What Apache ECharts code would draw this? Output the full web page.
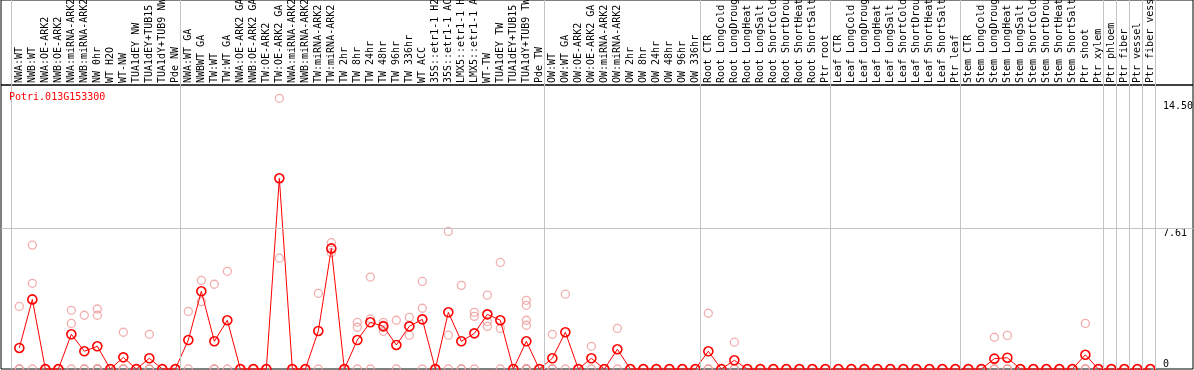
<!DOCTYPE html>
<html><head><meta charset="utf-8">
<script src="https://cdn.jsdelivr.net/npm/echarts@6/dist/echarts.min.js"></script>
<style>html,body{margin:0;padding:0;background:#fff}#c{width:1194px;height:370px}</style>
</head><body><div id="c"></div>
<script>
const geneName = 'Potri.013G153300';
const categories = [
  'NWA:WT','NWB:WT','NWA:OE-ARK2','NWB:OE-ARK2','NWA:miRNA-ARK2','NWB:miRNA-ARK2','NW 0hr','WT H2O','WT-NW',
  'TUA1dEY NW','TUA1dEY+TUB15 NW','TUA1dY+TUB9 NW','Pde NW',
  'NWA:WT GA','NWBWT GA','TW:WT','TW:WT GA','NWA:OE-ARK2 GA','NWB:OE-ARK2 GA','TW:OE-ARK2','TW:OE-ARK2 GA',
  'NWA:miRNA-ARK2','NWB:miRNA-ARK2','TW:miRNA-ARK2','TW:miRNA-ARK2','TW 2hr','TW 8hr','TW 24hr','TW 48hr','TW 96hr','TW 336hr',
  'WT ACC','35S::etr1-1 H2O','35S::etr1-1 ACC','LMX5::etr1-1 H2O','LMX5::etr1-1 ACC','WT-TW','TUA1dEY TW','TUA1dEY+TUB15 TW','TUA1dY+TUB9 TW','Pde TW',
  'OW:WT','OW:WT GA','OW:OE-ARK2','OW:OE-ARK2 GA','OW:miRNA-ARK2','OW:miRNA-ARK2','OW 2hr','OW 8hr','OW 24hr','OW 48hr','OW 96hr','OW 336hr',
  'Root CTR','Root LongCold','Root LongDrought','Root LongHeat','Root LongSalt','Root ShortCold','Root ShortDrought','Root ShortHeat','Root ShortSalt','Ptr root',
  'Leaf CTR','Leaf LongCold','Leaf LongDrought','Leaf LongHeat','Leaf LongSalt','Leaf ShortCold','Leaf ShortDrought','Leaf ShortHeat','Leaf ShortSalt','Ptr leaf',
  'Stem CTR','Stem LongCold','Stem LongDrought','Stem LongHeat','Stem LongSalt','Stem ShortCold','Stem ShortDrought','Stem ShortHeat','Stem ShortSalt','Ptr shoot','Ptr xylem',
  'Ptr phloem','Ptr fiber','Ptr vessel','Ptr fiber vessel'
];
const groupSizes = [13, 28, 12, 10, 10, 11, 1, 1, 1, 1];
const means = [
  1.14,3.77,0,0,1.88,0.96,1.23,0,0.63,0,0.58,0,0,
  1.57,4.21,1.50,2.64,0,0,0,10.33,0,0,2.06,6.53,0,1.57,2.53,2.31,1.30,2.31,2.69,0,3.07,1.50,1.93,2.96,2.64,0,1.50,0,
  0.58,1.99,0,0.58,0,1.07,0,0,0,0,0,0,
  0.96,0,0.47,0,0,0,0,0,0,0,
  0,0,0,0,0,0,0,0,0,0,
  0,0,0.56,0.61,0,0,0,0,0,0.77,0,
  0,0,0,0
];
const replicates = [
  [3.39,0,0],[6.71,4.64,0],[0,0,0],[0,0,0],[3.18,2.47,0],[2.91,0,0],[3.25,2.91,0,0,0],[0,0,0],[1.99,0,0],[0,0,0],[1.88,0,0],[0,0],[0,0],
  [3.12,0],[4.80,3.65],[4.59,0,0],[5.29,0],[0,0],[0,0],[0,0],[14.66,6.0],[0,0],[0,0],[4.10,0],[6.84,6.30],[0,0],[2.53,2.26,0],[4.98,2.71,0],
  [2.53,2.04,2.37],[2.64,0],[2.80,1.83],[4.74,3.29,0],[0,0],[7.45,1.83,0],[4.53,0,0],[3.07,2.85,0],[4.0,2.31,2.57],[5.77,2.20,0],[0,0],
  [3.72,3.45,2.64,2.37,0,0,0,0],[0,0],
  [1.88,0,0],[4.05,0],[0,0],[1.23,0],[0,0],[2.20,0],[0,0],[0,0],[0,0],[0,0],[0,0],[0,0],
  [3.02,0,0],[0,0],[1.45,0,0],[0,0],[0,0],[0,0],[0,0],[0,0],[0,0],[0,0],
  [0,0],[0,0],[0,0],[0,0],[0,0],[0,0],[0,0],[0,0],[0,0],[0,0],
  [0,0],[0,0],[1.72,0,0],[1.82,0,0],[0,0],[0,0],[0,0],[0,0],[0,0],[2.47,0,0],[0,0],
  [0,0],[0,0],[0,0],[0,0]
];
const yTickLabels = [0, 7.61, 14.50];
const yGridValue = 7.61;

const FONT = 'DejaVu Sans Mono';
const xMin = -1.41, xMax = 90.28, yMax = 15.38;
const sepOffset = 5 / 13;
const seps = [-1 + sepOffset];
let acc = 0;
groupSizes.forEach(s => { acc += s; seps.push(acc - 1 + sepOffset); });

const repPoints = [];
replicates.forEach((arr, i) => arr.forEach(v => repPoints.push([i, v])));
const meanPoints = means.map((v, i) => [i, v]);
const gray = '#c4c4c4';

const chart = echarts.init(document.getElementById('c'), null, {renderer: 'canvas'});
chart.setOption({
  animation: false,
  backgroundColor: '#fff',
  title: {
    text: geneName, left: 9, top: 92, padding: 0,
    textStyle: {color: '#ff0000', fontFamily: FONT, fontSize: 10, fontWeight: 'normal'}
  },
  grid: [
    {left: 1, right: 1, top: 85, bottom: 1, show: true, borderColor: '#000', borderWidth: 1, backgroundColor: 'transparent',
     containLabel: false, outerBoundsMode: 'none'},
    {left: 1, right: 1, top: 0, height: 85, show: true, borderColor: '#000', borderWidth: 1, backgroundColor: 'transparent',
     containLabel: false, outerBoundsMode: 'none'}
  ],
  xAxis: [
    {gridIndex: 0, type: 'value', position: 'top', min: xMin, max: xMax,
     axisLine: {show: false}, axisTick: {show: false}, splitLine: {show: false},
     axisLabel: {show: true, customValues: categories.map((_, i) => i), formatter: v => categories[Math.round(v)] || '',
       rotate: 90, margin: 2, color: '#000', fontFamily: FONT, fontSize: 10}},
    {gridIndex: 1, type: 'value', min: xMin, max: xMax, show: false}
  ],
  yAxis: [
    {gridIndex: 0, type: 'value', position: 'right', min: 0, max: yMax,
     axisLine: {show: false}, axisTick: {show: false}, splitLine: {show: false},
     axisLabel: {inside: true, margin: 30, align: 'left', verticalAlign: 'top', color: '#000', fontFamily: FONT, fontSize: 10,
       customValues: yTickLabels.filter(v => v !== 0), formatter: v => v === 0 ? '0' : v.toFixed(2)}},
    {gridIndex: 0, type: 'value', position: 'right', min: 0, max: yMax,
     axisLine: {show: false}, axisTick: {show: false}, splitLine: {show: false},
     axisLabel: {inside: true, margin: 30, align: 'left', verticalAlign: 'bottom', color: '#000', fontFamily: FONT, fontSize: 10,
       customValues: yTickLabels.filter(v => v === 0), formatter: v => v === 0 ? '0' : v.toFixed(2)}},
    {gridIndex: 1, type: 'value', min: 0, max: 1, show: false}
  ],
  series: [
    {type: 'scatter', xAxisIndex: 0, yAxisIndex: 0, data: [], symbolSize: 0, z: 0, silent: true,
     markLine: {silent: true, symbol: 'none', label: {show: false}, animation: false,
       lineStyle: {color: gray, type: 'solid', width: 1},
       data: seps.map(v => ({xAxis: v})).concat([{yAxis: yGridValue}])}},
    {type: 'scatter', xAxisIndex: 1, yAxisIndex: 2, data: [], symbolSize: 0, z: 0, silent: true,
     markLine: {silent: true, symbol: 'none', label: {show: false}, animation: false,
       lineStyle: {color: gray, type: 'solid', width: 1},
       data: seps.map(v => ({xAxis: v}))}},
    {type: 'scatter', xAxisIndex: 0, yAxisIndex: 0, data: repPoints, symbol: 'circle', symbolSize: 8, z: 2,
     itemStyle: {color: 'rgba(255,255,255,0)', borderColor: '#ee9a9a', borderWidth: 1.3}},
    {type: 'line', xAxisIndex: 0, yAxisIndex: 0, data: meanPoints, symbol: 'circle', symbolSize: 9, z: 3,
     showAllSymbol: true, clip: false,
     lineStyle: {color: '#ff0000', width: 1},
     itemStyle: {color: 'rgba(255,255,255,0)', borderColor: '#ff0000', borderWidth: 1.6}}
  ]
});
</script></body></html>
